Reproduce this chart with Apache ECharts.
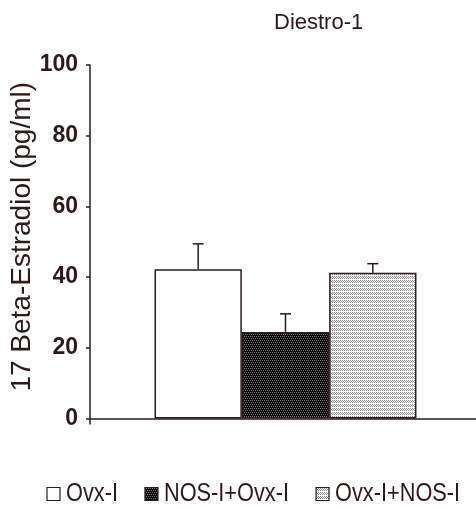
<!DOCTYPE html>
<html>
<head>
<meta charset="utf-8">
<script src="https://cdn.jsdelivr.net/npm/echarts@6/dist/echarts.min.js"></script>
<style>
  html, body { margin: 0; padding: 0; background: #fff; }
  #chart { width: 476px; height: 509px; }
</style>
</head>
<body>
<div id="chart"></div>
<script>
// Serum 17 beta-estradiol at Diestro-1, mean with upper SEM bar
const groups = ['Ovx-I', 'NOS-I+Ovx-I', 'Ovx-I+NOS-I'];
const means = [42.2, 24.5, 41.2];
const sem = [7.2, 5.1, 2.6];
const yTicks = [0, 20, 40, 60, 80, 100];

const ink = '#2e1a1a';
const FONT = '"Liberation Sans", Arial, sans-serif';

// small repeating tiles for the stippled bar fills
function tile(bg, fg, dots) {
  const c = document.createElement('canvas');
  c.width = 4; c.height = 4;
  const g = c.getContext('2d');
  g.fillStyle = bg; g.fillRect(0, 0, 4, 4);
  g.fillStyle = fg;
  dots.forEach(([x, y]) => g.fillRect(x, y, 1, 1));
  return c;
}
const darkTile = tile('#0a0a0a', '#767676', [[0, 0], [2, 0], [1, 2], [3, 2]]);
const lightTile = tile('#ffffff', '#8e8e8e', [[0, 0], [2, 0], [1, 1], [3, 1], [0, 2], [2, 2]]);

const fills = [
  '#ffffff',
  { image: darkTile, repeat: 'repeat' },
  { image: lightTile, repeat: 'repeat' }
];

const GAP = 0.33; // barCategoryGap fraction

const barSeries = groups.map((name, i) => ({
  name: name,
  type: 'bar',
  data: [means[i]],
  barGap: '0%',
  barCategoryGap: (GAP * 100) + '%',
  itemStyle: { color: fills[i], borderColor: ink, borderWidth: 1.5 },
  emphasis: { disabled: true },
  z: 2
}));

const errSeries = {
  type: 'custom',
  name: 'sem',
  data: groups.map((g, i) => [0, means[i], means[i] + sem[i], i]),
  renderItem: function (params, api) {
    const band = api.size([1, 0])[0];
    const bw = band * (1 - GAP) / 3;
    const idx = api.value(3);
    const base = api.coord([0, api.value(1)]);
    const top = api.coord([0, api.value(2)]);
    const x = base[0] + (idx - 1) * bw;
    const cap = 5.5;
    return {
      type: 'group',
      children: [
        { type: 'line', shape: { x1: x, y1: base[1], x2: x, y2: top[1] }, style: { stroke: ink, lineWidth: 1.5 } },
        { type: 'line', shape: { x1: x - cap, y1: top[1], x2: x + cap, y2: top[1] }, style: { stroke: ink, lineWidth: 1.5 } }
      ]
    };
  },
  silent: true,
  z: 3
};

// key row under the plot: swatch + condensed label per group
const KEY_FONT_SIZE = 25;
const KEY_SCALE = 0.87;
const measure = document.createElement('canvas').getContext('2d');
measure.font = KEY_FONT_SIZE + 'px ' + FONT;
const keyItems = [];
let kx = 47;
const ky = 494;
groups.forEach((name, i) => {
  keyItems.push({
    type: 'rect',
    shape: { x: kx, y: ky - 6.5, width: 13, height: 13 },
    style: { fill: fills[i], stroke: ink, lineWidth: 1.2 },
    silent: true
  });
  const tx = kx + 19;
  keyItems.push({
    type: 'text',
    x: tx,
    y: ky,
    scaleX: KEY_SCALE,
    style: {
      text: name,
      fontFamily: FONT,
      fontSize: KEY_FONT_SIZE,
      fill: ink,
      align: 'left',
      verticalAlign: 'middle'
    },
    silent: true
  });
  kx = tx + measure.measureText(name).width * KEY_SCALE + 27;
});

const chart = echarts.init(document.getElementById('chart'), null, { renderer: 'canvas' });
chart.setOption({
  animation: false,
  backgroundColor: '#ffffff',
  title: {
    text: 'Diestro-1',
    left: 269,
    top: 7,
    textStyle: { fontFamily: FONT, fontSize: 22, fontWeight: 'normal', color: ink }
  },
  grid: { left: 90, right: -5, top: 65, bottom: 90.5, containLabel: false, outerBoundsMode: 'none' },
  xAxis: {
    type: 'category',
    data: ['Diestro-1'],
    boundaryGap: true,
    axisLine: { lineStyle: { color: ink, width: 1.5 } },
    axisTick: { show: true, length: 6, lineStyle: { color: ink, width: 1.5 } },
    axisLabel: { show: false },
    splitLine: { show: false }
  },
  yAxis: {
    type: 'value',
    min: yTicks[0],
    max: yTicks[yTicks.length - 1],
    interval: yTicks[1] - yTicks[0],
    name: '17 Beta-Estradiol (pg/ml)',
    nameLocation: 'middle',
    nameGap: 54,
    nameMoveOverlap: false,
    nameTextStyle: { fontFamily: FONT, fontSize: 28, color: ink, padding: [0, 0, 0, 10] },
    axisLine: { show: true, lineStyle: { color: ink, width: 1.5 } },
    axisTick: { show: true, length: 4, lineStyle: { color: ink, width: 1.5 } },
    axisLabel: { margin: 12, fontFamily: FONT, fontSize: 23, fontWeight: 'bold', color: ink },
    splitLine: { show: false }
  },
  graphic: keyItems,
  series: barSeries.concat([errSeries])
});
</script>
</body>
</html>
